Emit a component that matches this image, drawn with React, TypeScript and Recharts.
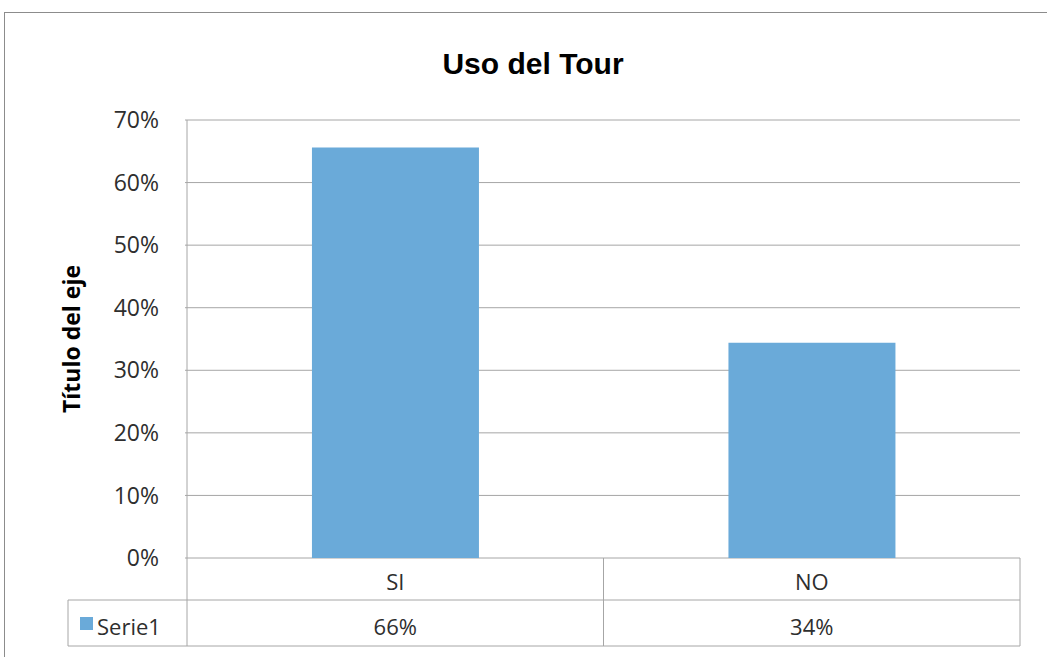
import { BarChart, Bar, XAxis, YAxis, CartesianGrid, Customized, Label } from 'recharts'

const categories = ['SI', 'NO']
const serie1 = [65.6, 34.4]
const yTicks = [0, 10, 20, 30, 40, 50, 60, 70]
const seriesName = 'Serie1'
const chartTitle = 'Uso del Tour'
const axisTitle = 'Título del eje'

const W = 1047
const H = 657
const PLOT_LEFT = 187
const PLOT_RIGHT = 1020
const PLOT_TOP = 120
const PLOT_BOTTOM = 558
const ROW_SPLIT = 600
const TABLE_BOTTOM = 646
const LEGEND_LEFT = 68

const BAR_COLOR = '#6aaad9'
const LINE_COLOR = '#a6a6a6'
const TEXT_COLOR = '#2e2e2e'
const FONT = '"Open Sans", "Noto Sans", sans-serif'

const data = categories.map((name, i) => ({ name, value: serie1[i] }))
const pct = (v: number) => `${Math.round(v)}%`

// category cells of the data table, drawn per x tick
function TableTick({ x, payload, index }: any) {
  const band = (PLOT_RIGHT - PLOT_LEFT) / categories.length
  const left = x - band / 2
  const right = x + band / 2
  return (
    <g>
      <line x1={left} y1={PLOT_BOTTOM} x2={left} y2={TABLE_BOTTOM} stroke={LINE_COLOR} />
      {index === categories.length - 1 && (
        <line x1={right} y1={PLOT_BOTTOM} x2={right} y2={TABLE_BOTTOM} stroke={LINE_COLOR} />
      )}
      <text x={x} y={(PLOT_BOTTOM + ROW_SPLIT) / 2 + 2} textAnchor="middle" dominantBaseline="central"
        fontFamily={FONT} fontSize={22} fill={TEXT_COLOR}>
        {payload.value}
      </text>
      <text x={x} y={(ROW_SPLIT + TABLE_BOTTOM) / 2 + 3} textAnchor="middle" dominantBaseline="central"
        fontFamily={FONT} fontSize={22} fill={TEXT_COLOR}>
        {pct(serie1[index])}
      </text>
    </g>
  )
}

// outer border, title and legend column of the table
function Frame() {
  return (
    <g>
      <rect x={4.5} y={12.5} width={W + 20} height={H + 20} fill="none" stroke="#8c8c8c" />
      <text x={533} y={63} textAnchor="middle" dominantBaseline="central"
        fontFamily='"Liberation Sans", Arial, sans-serif' fontWeight="bold" fontSize={30} fill="#000">
        {chartTitle}
      </text>
      <line x1={LEGEND_LEFT} y1={ROW_SPLIT} x2={PLOT_RIGHT} y2={ROW_SPLIT} stroke={LINE_COLOR} />
      <line x1={LEGEND_LEFT} y1={TABLE_BOTTOM} x2={PLOT_RIGHT} y2={TABLE_BOTTOM} stroke={LINE_COLOR} />
      <line x1={LEGEND_LEFT} y1={ROW_SPLIT} x2={LEGEND_LEFT} y2={TABLE_BOTTOM} stroke={LINE_COLOR} />
      <rect x={80} y={617} width={13} height={13} fill={BAR_COLOR} />
      <text x={97} y={(ROW_SPLIT + TABLE_BOTTOM) / 2 + 3} dominantBaseline="central"
        fontFamily={FONT} fontSize={22} fill={TEXT_COLOR}>
        {seriesName}
      </text>
    </g>
  )
}

export default function App() {
  return (
    <div style={{ position: 'absolute', left: 0, top: 0, width: W, height: H, background: '#fff' }}>
      <BarChart
        width={W}
        height={H}
        data={data}
        margin={{ top: PLOT_TOP, right: W - PLOT_RIGHT, bottom: 0, left: 0 }}
        barCategoryGap="30%"
      >
        <CartesianGrid vertical={false} stroke={LINE_COLOR} />
        <XAxis
          dataKey="name"
          height={H - PLOT_BOTTOM}
          axisLine={false}
          tickLine={false}
          tick={<TableTick />}
          interval={0}
        />
        <YAxis
          width={PLOT_LEFT}
          domain={[0, 70]}
          ticks={yTicks}
          tickFormatter={(v: number) => `${v}%`}
          tickSize={2}
          tickMargin={26}
          stroke={LINE_COLOR}
          tick={{ fill: TEXT_COLOR, fontSize: 23, fontFamily: FONT }}
        >
          <Label
            content={({ viewBox }: any) => {
              const cx = viewBox.x + 71
              const cy = viewBox.y + viewBox.height / 2
              return (
                <text x={cx} y={cy} transform={`rotate(-90 ${cx} ${cy})`} textAnchor="middle"
                  dominantBaseline="central" fontFamily={FONT} fontWeight="bold" fontSize={23} fill="#000">
                  {axisTitle}
                </text>
              )
            }}
          />
        </YAxis>
        <Bar dataKey="value" fill={BAR_COLOR} isAnimationActive={false} />
        <Customized component={<Frame />} />
      </BarChart>
    </div>
  )
}
